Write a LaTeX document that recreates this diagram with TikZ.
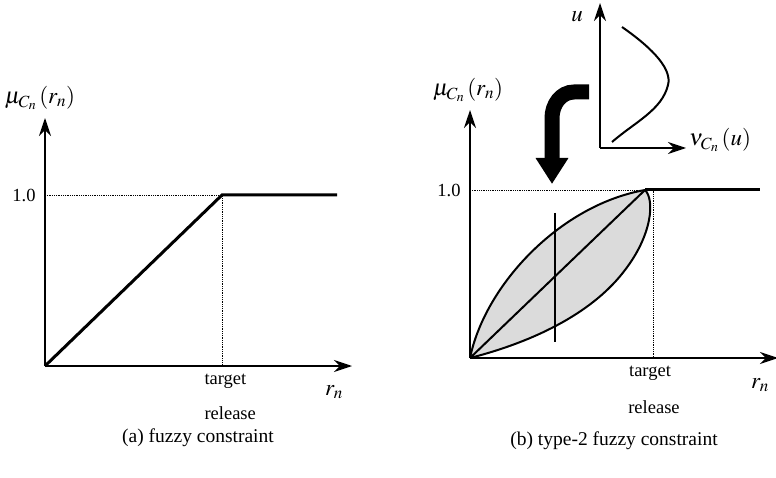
\documentclass[tikz,border=0pt]{standalone}
\usepackage{mathptmx}
\usepackage{fontspec}
\setmainfont{Liberation Serif}
\usetikzlibrary{arrows.meta}
\newcommand{\bigmath}[1]{{\fontsize{23}{26}\selectfont$#1$}}
\begin{document}
\begin{tikzpicture}[x=1pt,y=-1pt,font=\fontsize{18.5}{22}\selectfont,
  axis/.style={-{Stealth[length=18pt,width=12pt]},line width=1.5pt},
  guide/.style={densely dotted,line width=0.8pt},
  curve/.style={line width=2pt}]
\useasboundingbox (0,0) rectangle (776,478);
% (a) fuzzy constraint
\coordinate (Oa) at (45,366);
\coordinate (Ya) at (45,118);
\coordinate (Xa) at (352,366);
\coordinate (Ka) at (222,195);
\coordinate (Ea) at (337,195);
\draw[guide] (Oa |- Ka) -- (Ka) -- (Ka |- Oa);
\draw[axis] (Oa) -- (Ya);
\draw[axis] (Oa) -- (Xa);
\draw[line width=3pt] (Oa) -- (Ka) -- (Ea);
\node (mua) at (40,98) {\bigmath{\mu_{C_n}\,(r_n)}};
\node (onea) at (24,195) {1.0};
\node[anchor=west] (tara) at (201,381) {target};
\node[anchor=west] (rela) at (201,413) {release};
\node (rna) at (334,392) {\bigmath{r_n}};
\node (capa) at (198,438) {\fontsize{19.5}{22}\selectfont (a) fuzzy constraint};
% (b) type-2 fuzzy constraint
\coordinate (Ob) at (470,358);
\coordinate (Yb) at (470,110);
\coordinate (Xb) at (778,358);
\coordinate (Kb) at (645,190);
\coordinate (Eb) at (760,190);
\coordinate (Tb) at (653,190);
\fill[gray!28] (Ob) .. controls (485,285) and (560,205) .. (Kb)
  .. controls (655,200) and (652,235) .. (625,270)
  .. controls (595,310) and (540,340) .. (Ob) -- cycle;
\draw[guide] (Ob |- Kb) -- (Tb) -- (Tb |- Ob);
\draw[axis] (Ob) -- (Yb);
\draw[axis] (Ob) -- (Xb);
\draw[curve] (Ob) .. controls (485,285) and (560,205) .. (Kb);
\draw[curve] (Ob) .. controls (540,340) and (595,310) .. (625,270)
  .. controls (652,235) and (655,200) .. (Kb);
\draw[curve] (Ob) -- (Kb);
\draw[line width=3pt] (Kb) -- (Eb);
\draw[curve] (555,213) -- (555,342);
\node (mub) at (468,90) {\bigmath{\mu_{C_n}\,(r_n)}};
\node (oneb) at (449,190) {1.0};
\node (tarb) at (650,373) {target};
\node (relb) at (654,407) {release};
\node (rnb) at (760,385) {\bigmath{r_n}};
\node (capb) at (614,441) {\fontsize{19.5}{22}\selectfont (b) type-2 fuzzy constraint};
% secondary membership inset
\coordinate (Oc) at (600,148);
\coordinate (Yc) at (600,3);
\coordinate (Xc) at (686,148);
\draw[axis] (Oc) -- (Yc);
\draw[axis] (Oc) -- (Xc);
\draw[curve] (622,27) .. controls (655,50) and (672,70) .. (668,85)
  .. controls (662,110) and (635,122) .. (612,142);
\node (uc) at (577,17) {\bigmath{u}};
\node (nuc) at (720,140) {\bigmath{\nu_{C_n}\,(u)}};
% bold bent arrow
\draw[line width=15pt,-{Triangle[length=26pt,width=31pt]}]
  (589,92) -- (574,92) to[out=180,in=90] (552,118) -- (552,184);
\end{tikzpicture}
\end{document}
